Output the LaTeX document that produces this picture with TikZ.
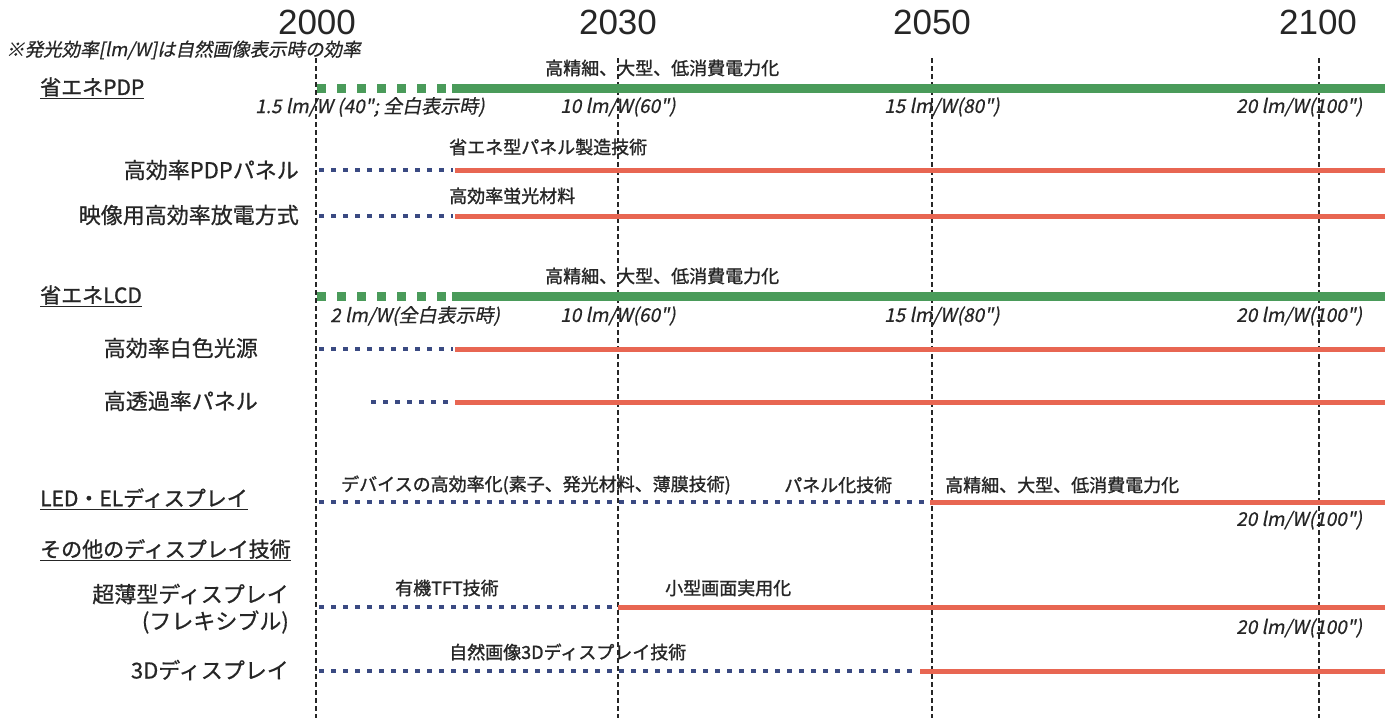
\documentclass[tikz,border=0pt]{standalone}
\usepackage{fontspec}
\setmainfont{Noto Sans CJK JP}
\newfontfamily\jp[FakeBold=0.6]{Noto Sans CJK JP}
\newfontfamily\jpb[FakeBold=1.2]{Noto Sans CJK JP}
\newfontfamily\jpit[FakeSlant=0.2,FakeBold=0.5]{Noto Sans CJK JP}
\newfontfamily\yrf{Liberation Sans}
\definecolor{tgreen}{RGB}{74,155,90}
\definecolor{tred}{RGB}{232,102,82}
\definecolor{tblue}{RGB}{58,74,130}
\begin{document}
\begin{tikzpicture}[x=1pt,y=-1pt,
  year/.style={font=\yrf\fontsize{35}{35}\selectfont, inner sep=0pt, text=black!85},
  vline/.style={line width=1.3pt, dash pattern=on 5pt off 3pt, black!85},
  gsolid/.style={line width=9pt, tgreen},
  gdash/.style={line width=9pt, tgreen, dash pattern=on 9pt off 11pt},
  rline/.style={line width=5pt, tred},
  bdot/.style={line width=4.5pt, tblue, dash pattern=on 5pt off 7pt},
  lab/.style={font=\jp\fontsize{22}{26}\selectfont, anchor=east, inner sep=0pt, text=black!85},
  head/.style={font=\jpb\fontsize{21}{24}\selectfont, anchor=west, inner sep=0pt, text=black!85},
  barlab/.style={font=\jpb\fontsize{18}{20}\selectfont, anchor=west, inner sep=0pt, text=black!85},
  eff/.style={font=\jpit\fontsize{19}{20}\selectfont, anchor=west, inner sep=0pt, text=black!85}
]
\useasboundingbox (0,0) rectangle (1392,718);
\fill[white] (0,0) rectangle (1392,718);

% years
\node[year] (y2000) at (317,22) {2000};
\node[year] (y2030) at (618,22) {2030};
\node[year] (y2050) at (932,22) {2050};
\node[year] (y2100) at (1318,22) {2100};
\coordinate (v2000b) at (316,718);
\coordinate (v2030b) at (618,718);
\coordinate (v2050b) at (932,718);
\coordinate (v2100b) at (1319,718);
\draw[vline] (316,58) -- (v2000b);
\draw[vline] (618,58) -- (v2030b);
\draw[vline] (932,58) -- (v2050b);
\draw[vline] (1319,58) -- (v2100b);

% note
\node[font=\jpit\fontsize{18.5}{20}\selectfont, anchor=west, inner sep=0pt, text=black!85] (note) at (6,50) {※発光効率[lm/W]は自然画像表示時の効率};

% PDP
\node[head] (hpdp) at (40,88) {\underline{省エネPDP}};
\coordinate (pdpA) at (317,88);
\coordinate (pdpB) at (447,88);
\coordinate (pdpC) at (452,88);
\coordinate (pdpD) at (1385,88);
\draw[gdash] (pdpA) -- (pdpB);
\draw[gsolid] (pdpC) -- (pdpD);
\node[barlab] (tpdp) at (545,68) {高精細、大型、低消費電力化};
\node[eff] (e1a) at (255,107) {1.5 lm/W (40"; 全白表示時)};
\node[eff] (e1b) at (560,107) {10 lm/W(60")};
\node[eff] (e1c) at (884,107) {15 lm/W(80")};
\node[eff] (e1d) at (1236,107) {20 lm/W(100")};

% row 1
\node[lab] (l1) at (299,170) {高効率PDPパネル};
\coordinate (r1a) at (319,170);
\coordinate (r1b) at (453,170);
\coordinate (r1c) at (455,170);
\coordinate (r1d) at (1385,170);
\draw[bdot] (r1a) -- (r1b);
\draw[rline] (r1c) -- (r1d);
\node[barlab] (t1) at (449,147) {省エネ型パネル製造技術};

% row 2
\node[lab] (l2) at (299,215) {映像用高効率放電方式};
\coordinate (r2a) at (319,216);
\coordinate (r2b) at (453,216);
\coordinate (r2c) at (455,216);
\coordinate (r2d) at (1385,216);
\draw[bdot] (r2a) -- (r2b);
\draw[rline] (r2c) -- (r2d);
\node[barlab] (t2) at (449,196) {高効率蛍光材料};

% LCD
\node[head] (hlcd) at (40,296) {\underline{省エネLCD}};
\coordinate (lcdA) at (317,296);
\coordinate (lcdB) at (447,296);
\coordinate (lcdC) at (452,296);
\coordinate (lcdD) at (1385,296);
\draw[gdash] (lcdA) -- (lcdB);
\draw[gsolid] (lcdC) -- (lcdD);
\node[barlab] (tlcd) at (545,276) {高精細、大型、低消費電力化};
\node[eff] (e2a) at (330,316) {2 lm/W(全白表示時)};
\node[eff] (e2b) at (560,316) {10 lm/W(60")};
\node[eff] (e2c) at (884,316) {15 lm/W(80")};
\node[eff] (e2d) at (1236,316) {20 lm/W(100")};

% row 3
\node[lab] (l3) at (258,348) {高効率白色光源};
\coordinate (r3a) at (319,349);
\coordinate (r3b) at (453,349);
\coordinate (r3c) at (455,349);
\coordinate (r3d) at (1385,349);
\draw[bdot] (r3a) -- (r3b);
\draw[rline] (r3c) -- (r3d);

% row 4
\node[lab] (l4) at (258,401) {高透過率パネル};
\coordinate (r4a) at (371,402);
\coordinate (r4b) at (453,402);
\coordinate (r4c) at (455,402);
\coordinate (r4d) at (1385,402);
\draw[bdot] (r4a) -- (r4b);
\draw[rline] (r4c) -- (r4d);

% LED/EL
\node[head] (hled) at (40,499) {\underline{LED・ELディスプレイ}};
\coordinate (r5a) at (319,502);
\coordinate (r5b) at (928,502);
\coordinate (r5c) at (930,502);
\coordinate (r5d) at (1385,502);
\draw[bdot] (r5a) -- (r5b);
\draw[rline] (r5c) -- (r5d);
\node[barlab] (t5a) at (341,485) {デバイスの高効率化(素子、発光材料、薄膜技術)};
\node[barlab] (t5b) at (784,485) {パネル化技術};
\node[barlab] (t5c) at (945,485) {高精細、大型、低消費電力化};
\node[eff] (e5) at (1236,520) {20 lm/W(100")};

% others
\node[head] (hoth) at (40,550) {\underline{その他のディスプレイ技術}};

% thin display
\node[lab] (l6a) at (289,594) {超薄型ディスプレイ};
\node[lab] (l6b) at (289,622) {(フレキシブル)};
\coordinate (r6a) at (319,607);
\coordinate (r6b) at (614,607);
\coordinate (r6c) at (618,607);
\coordinate (r6d) at (1385,607);
\draw[bdot] (r6a) -- (r6b);
\draw[rline] (r6c) -- (r6d);
\node[barlab] (t6a) at (395,588) {有機TFT技術};
\node[barlab] (t6b) at (665,588) {小型画面実用化};
\node[eff] (e6) at (1236,628) {20 lm/W(100")};

% 3D
\node[lab] (l7) at (289,670) {3Dディスプレイ};
\coordinate (r7a) at (319,671);
\coordinate (r7b) at (918,671);
\coordinate (r7c) at (920,671);
\coordinate (r7d) at (1385,671);
\draw[bdot] (r7a) -- (r7b);
\draw[rline] (r7c) -- (r7d);
\node[barlab] (t7) at (449,652) {自然画像3Dディスプレイ技術};
\end{tikzpicture}
\end{document}
